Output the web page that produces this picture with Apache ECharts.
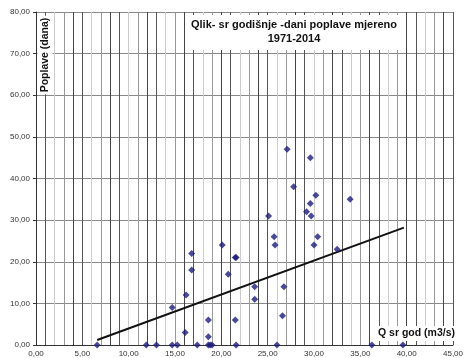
<!DOCTYPE html>
<html><head><meta charset="utf-8">
<script src="https://cdn.jsdelivr.net/npm/echarts@6/dist/echarts.min.js"></script>
<style>html,body{margin:0;padding:0;background:#fff}#c{width:466px;height:358px}</style>
</head><body><div id="c"></div>
<script>
var titleText = 'Qlik- sr godišnje -dani poplave mjereno\n1971-2014';
var xName = 'Q sr god (m3/s)';
var yName = 'Poplave (dana)';
var qValues = [6.6, 11.9, 13.0, 14.7, 15.25, 17.4, 18.6, 18.8, 19.0, 21.6, 26.0, 36.25, 39.6,
  14.7, 16.2, 16.1, 16.8, 16.8, 18.6, 18.6, 20.1, 20.75, 21.5, 21.6, 21.5, 23.6, 23.6,
  25.1, 25.7, 25.8, 26.6, 26.75, 27.8, 29.2, 29.6, 29.7, 30.2, 30.0, 30.4, 32.5, 33.9, 27.1, 29.6];
var floodDays = [0, 0, 0, 0, 0, 0, 0, 0, 0, 0, 0, 0, 0,
  9, 12, 3, 22, 18, 6, 2, 24, 17, 21, 21, 6, 14, 11,
  31, 26, 24, 7, 14, 38, 32, 34, 31, 36, 24, 26, 23, 35, 47, 45];
var trendX = [6.6, 39.7];
var trendY = [1.2, 28.2];

var pts = qValues.map(function(q, i){ return [q, floodDays[i]]; });
var trend = trendX.map(function(x, i){ return [x, trendY[i]]; });
function fmt(v){ return v.toFixed(2).replace('.', ','); }

var chart = echarts.init(document.getElementById('c'));
chart.setOption({
  animation: false,
  textStyle: {fontFamily: 'Liberation Sans, Arial, sans-serif'},
  grid: {left: 36, right: 10, top: 12, bottom: 13},
  xAxis: {
    type: 'value', min: 0, max: 45, interval: 1,
    axisLine: {lineStyle: {color: '#333', width: 1}},
    axisTick: {show: false},
    axisLabel: {fontSize: 8, color: '#333', margin: 5,
      formatter: function(v){ return v % 5 === 0 ? fmt(v) : ''; }},
    splitLine: {show: true, lineStyle: {width: 1, color: ['#444', '#555', '#ccc', '#999']}}
  },
  yAxis: {
    type: 'value', min: 0, max: 80, interval: 10,
    axisLine: {show: true, lineStyle: {color: '#333', width: 1}},
    axisTick: {show: true, length: 3, lineStyle: {color: '#333'}},
    axisLabel: {fontSize: 8, color: '#333', margin: 6, formatter: fmt},
    splitLine: {show: true, lineStyle: {color: '#888', width: 1}}
  },
  title: {
    text: titleText, left: 291, top: 15, textAlign: 'center',
    backgroundColor: '#fff', padding: [3, 3, 4, 3],
    textStyle: {fontSize: 11, fontWeight: 'bold', color: '#111', lineHeight: 14,
      fontFamily: 'Liberation Sans, Arial, sans-serif'}
  },
  graphic: [
    {type: 'text', left: 376, top: 326, z: 100,
      style: {text: xName, font: 'bold 10.5px Liberation Sans, Arial, sans-serif', fill: '#111',
        backgroundColor: '#fff', padding: [2, 2, 2, 2]}},
    {type: 'text', x: 45, y: 55, rotation: Math.PI / 2, z: 100,
      style: {text: yName, font: 'bold 10.5px Liberation Sans, Arial, sans-serif', fill: '#111',
        align: 'center', verticalAlign: 'middle', backgroundColor: '#fff', padding: [2, 2, 2, 2]}}
  ],
  series: [
    {type: 'scatter', data: pts, symbol: 'diamond', symbolSize: 7,
      itemStyle: {color: '#1c1c7a'}, z: 5},
    {type: 'line', data: trend, symbol: 'none', lineStyle: {color: '#111', width: 2}, z: 4}
  ]
});
</script></body></html>
